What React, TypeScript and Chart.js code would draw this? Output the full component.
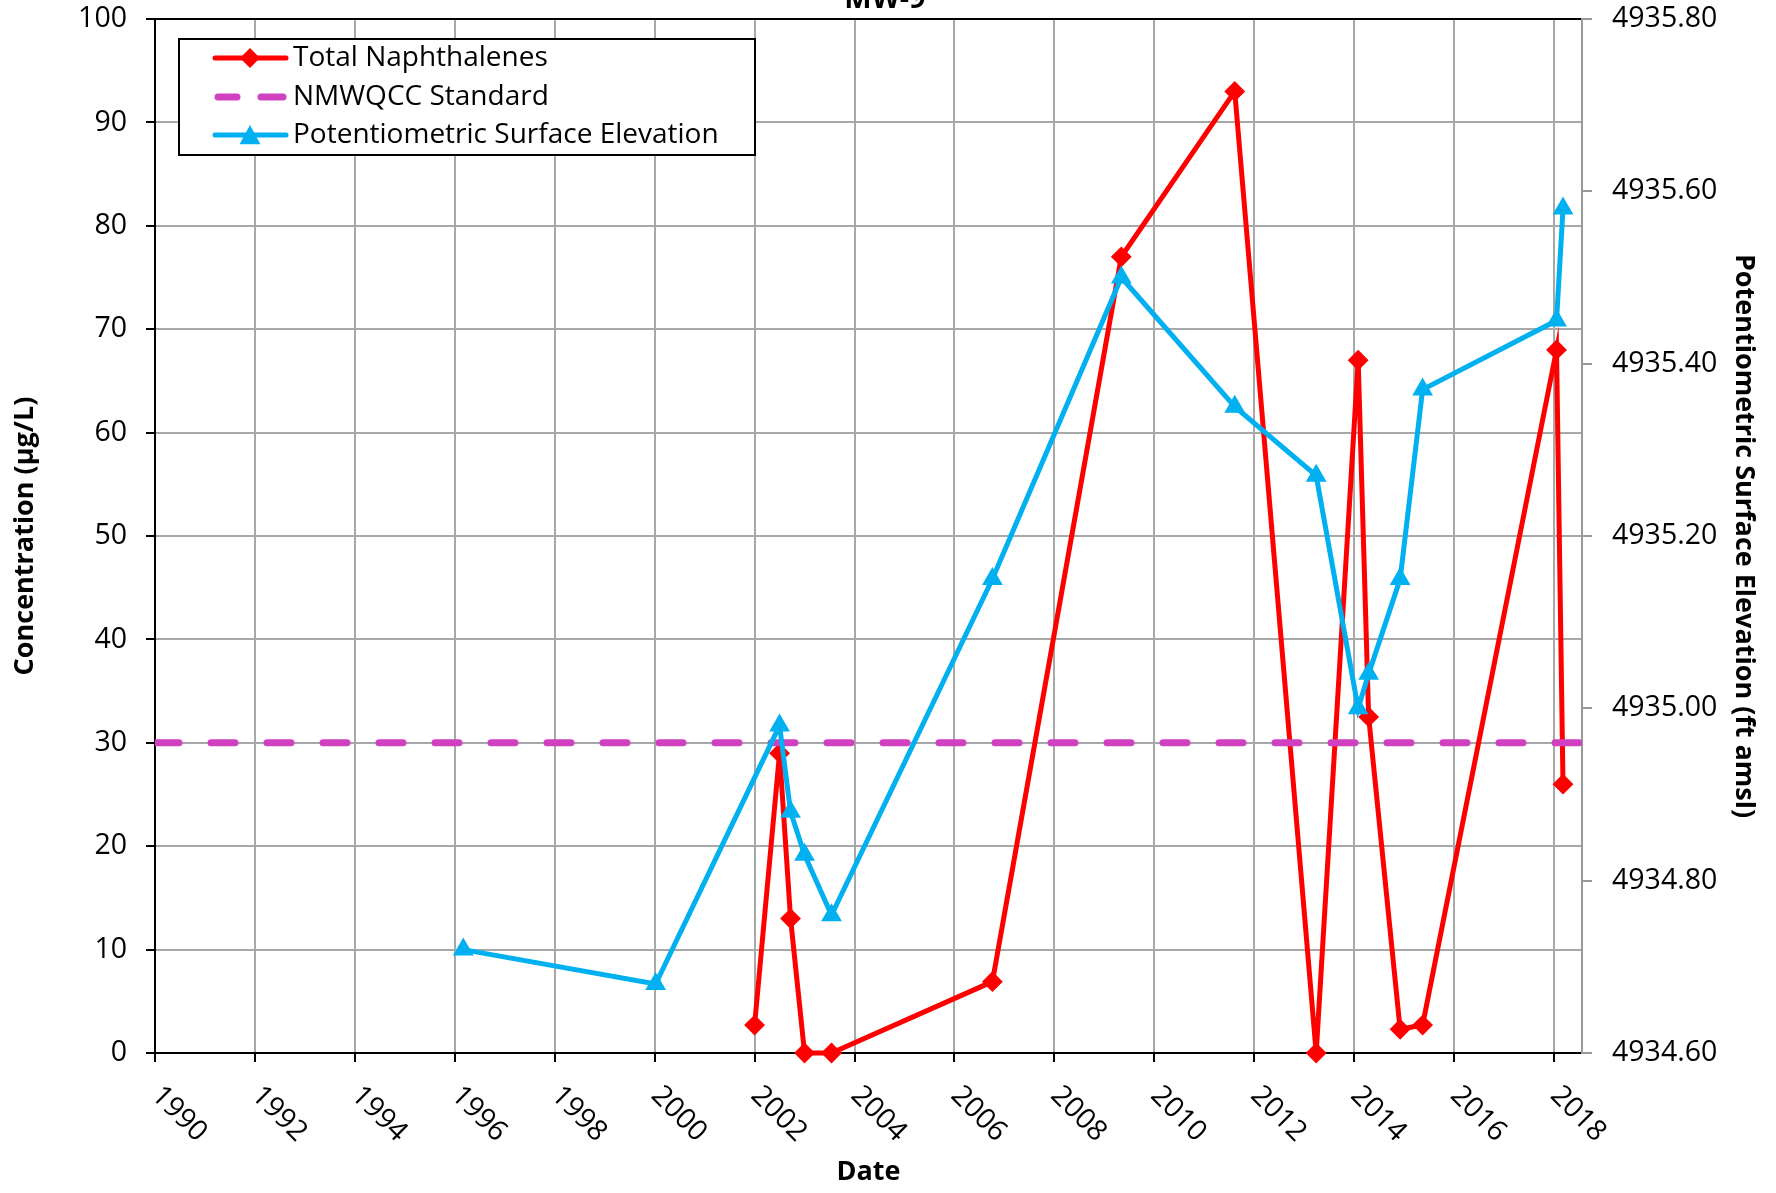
import React, { useEffect, useRef } from "react";
import { Chart, registerables } from "chart.js";

Chart.register(...registerables);

// ---- Data ----
const naphDates = [2002.0, 2002.5, 2002.72, 2003.0, 2003.54, 2006.76, 2009.34, 2011.61, 2013.24, 2014.08, 2014.29, 2014.92, 2015.37, 2018.05, 2018.18];
const naphValues = [2.7, 29, 13, 0, 0, 6.9, 77, 93, 0, 67, 32.5, 2.3, 2.7, 68, 26];

const elevDates = [1996.17, 2000.02, 2002.5, 2002.72, 2003.0, 2003.54, 2006.76, 2009.34, 2011.61, 2013.24, 2014.08, 2014.29, 2014.92, 2015.37, 2018.05, 2018.18];
const elevValues = [4934.72, 4934.68, 4934.98, 4934.88, 4934.83, 4934.76, 4935.15, 4935.5, 4935.35, 4935.27, 4935.0, 4935.04, 4935.15, 4935.37, 4935.45, 4935.58];

const standardDates = [1990, 2018.56];
const standardValues = [30, 30];

const seriesNames = ["Total Naphthalenes", "NMWQCC Standard", "Potentiometric Surface Elevation"];
const chartTitle = "MW-9";
const xTitle = "Date";
const yLeftTitle = "Concentration (µg/L)";
const yRightTitle = "Potentiometric Surface Elevation (ft amsl)";

const RED = "#FF0000";
const MAGENTA = "#D040C0";
const BLUE = "#00B0F0";
const GRID = "#A8A8A8";
const FONT = "'Open Sans', 'Noto Sans', sans-serif";
const TICK_SIZE = 28.5;
const TITLE_SIZE = 27;

const zip = (xs: number[], ys: number[]) => xs.map((x, i) => ({ x, y: ys[i] }));

function drawDiamond(ctx: CanvasRenderingContext2D, x: number, y: number, r: number) {
  ctx.beginPath();
  ctx.moveTo(x, y - r);
  ctx.lineTo(x + r, y);
  ctx.lineTo(x, y + r);
  ctx.lineTo(x - r, y);
  ctx.closePath();
  ctx.fill();
}
function drawTriangle(ctx: CanvasRenderingContext2D, x: number, y: number, r: number) {
  ctx.beginPath();
  ctx.moveTo(x, y - r);
  ctx.lineTo(x + r * 0.95, y + r * 0.75);
  ctx.lineTo(x - r * 0.95, y + r * 0.75);
  ctx.closePath();
  ctx.fill();
}

const extrasPlugin = {
  id: "extras",
  afterDraw(chart: any) {
    const ctx: CanvasRenderingContext2D = chart.ctx;
    const xs = chart.scales.x;
    const bottom = chart.chartArea.bottom;
    ctx.save();
    // x tick labels rotated clockwise
    ctx.fillStyle = "#000";
    ctx.font = `${TICK_SIZE}px ${FONT}`;
    ctx.textAlign = "left";
    ctx.textBaseline = "middle";
    xs.ticks.forEach((t: any) => {
      const px = xs.getPixelForValue(t.value);
      ctx.save();
      ctx.translate(px + 1, bottom + 38);
      ctx.rotate(Math.PI / 4);
      ctx.fillText(String(Math.round(t.value)), 0, 0);
      ctx.restore();
    });
    // title (partially cut at top)
    ctx.font = `bold 29px ${FONT}`;
    ctx.textAlign = "center";
    ctx.textBaseline = "alphabetic";
    ctx.fillText(chartTitle, 885, 8);

    // legend
    const bx = 179, by = 39, bw = 576, bh = 116;
    ctx.fillStyle = "#fff";
    ctx.fillRect(bx, by, bw, bh);
    ctx.strokeStyle = "#000";
    ctx.lineWidth = 2;
    ctx.strokeRect(bx, by, bw, bh);
    const rows = [58, 97, 135];
    const lx0 = 215, lx1 = 286, lmid = 250;
    // row 1
    ctx.lineCap = "round";
    ctx.strokeStyle = RED;
    ctx.lineWidth = 5;
    ctx.beginPath();
    ctx.moveTo(lx0, rows[0]);
    ctx.lineTo(lx1, rows[0]);
    ctx.stroke();
    ctx.fillStyle = RED;
    drawDiamond(ctx, lmid, rows[0], 10);
    // row 2
    ctx.strokeStyle = MAGENTA;
    ctx.lineWidth = 7;
    ctx.beginPath();
    ctx.moveTo(lx0 + 3, rows[1]);
    ctx.lineTo(lx0 + 22, rows[1]);
    ctx.moveTo(lx0 + 46, rows[1]);
    ctx.lineTo(lx1 - 3, rows[1]);
    ctx.stroke();
    // row 3
    ctx.strokeStyle = BLUE;
    ctx.lineWidth = 5;
    ctx.beginPath();
    ctx.moveTo(lx0, rows[2]);
    ctx.lineTo(lx1, rows[2]);
    ctx.stroke();
    ctx.fillStyle = BLUE;
    drawTriangle(ctx, lmid, rows[2] + 1, 11);
    // texts
    ctx.fillStyle = "#000";
    ctx.font = `28px ${FONT}`;
    ctx.textAlign = "left";
    ctx.textBaseline = "middle";
    seriesNames.forEach((n, i) => ctx.fillText(n, 293, rows[i]));
    ctx.restore();
  },
};

export default function App() {
  const ref = useRef<HTMLCanvasElement | null>(null);
  useEffect(() => {
    if (!ref.current) return;
    Chart.defaults.font.family = FONT;
    Chart.defaults.color = "#000";
    const chart = new Chart(ref.current, {
      type: "line",
      data: {
        datasets: [
          {
            label: seriesNames[0],
            data: zip(naphDates, naphValues),
            yAxisID: "y",
            borderColor: RED,
            backgroundColor: RED,
            borderWidth: 5,
            pointStyle: "rectRot",
            pointRadius: 9,
            pointBorderWidth: 2,
            pointBackgroundColor: RED,
            pointBorderColor: RED,
            clip: false as any,
            order: 3,
          },
          {
            label: seriesNames[1],
            data: zip(standardDates, standardValues),
            yAxisID: "y",
            borderColor: MAGENTA,
            backgroundColor: MAGENTA,
            borderWidth: 7,
            borderDash: [24, 32],
            borderCapStyle: "round",
            pointRadius: 0,
            order: 2,
          },
          {
            label: seriesNames[2],
            data: zip(elevDates, elevValues),
            yAxisID: "y2",
            borderColor: BLUE,
            backgroundColor: BLUE,
            borderWidth: 5,
            pointStyle: "triangle",
            pointRadius: 10,
            pointBorderWidth: 2,
            pointBackgroundColor: BLUE,
            pointBorderColor: BLUE,
            clip: false as any,
            order: 1,
          },
        ],
      },
      options: {
        responsive: false,
        animation: false,
        layout: { padding: { top: 19, left: 0, right: 0, bottom: 0 } },
        plugins: { legend: { display: false }, tooltip: { enabled: false }, title: { display: false } },
        elements: { line: { tension: 0 } },
        scales: {
          x: {
            type: "linear",
            position: "bottom",
            min: 1990,
            max: 2018.56,
            afterFit: (s: any) => { s.height = 140; s.paddingLeft = 0; s.paddingRight = 0; },
            ticks: { stepSize: 2, includeBounds: false, display: false },
            grid: {
              color: (c: any) => (c.tick && c.tick.value === 1990 ? "rgba(0,0,0,0)" : GRID),
              tickColor: "#000",
              lineWidth: 2,
              tickLength: 9,
            },
            border: { color: "#000", width: 2 },
            title: { display: true, text: xTitle, font: { size: TITLE_SIZE, weight: "bold" }, padding: { top: 0, bottom: 4 } },
          },
          y: {
            type: "linear",
            position: "left",
            min: 0,
            max: 100,
            afterFit: (s: any) => { s.width = 155; s.paddingTop = 0; s.paddingBottom = 0; },
            ticks: { stepSize: 10, padding: 19, font: { size: TICK_SIZE } },
            grid: {
              color: (c: any) => (c.tick && c.tick.value === 100 ? "#000" : c.tick && c.tick.value === 0 ? "rgba(0,0,0,0)" : GRID),
              tickColor: "#000",
              lineWidth: 2,
              tickLength: 9,
            },
            border: { color: "#000", width: 2 },
            title: { display: true, text: yLeftTitle, font: { size: TITLE_SIZE, weight: "bold" }, padding: { top: 9, bottom: 0 } },
          },
          y2: {
            type: "linear",
            position: "right",
            min: 4934.6,
            max: 4935.8,
            afterFit: (s: any) => { s.width = 194; s.paddingTop = 0; s.paddingBottom = 0; },
            ticks: { stepSize: 0.2, padding: 20, font: { size: TICK_SIZE }, callback: (v: any) => Number(v).toFixed(2) },
            grid: { drawOnChartArea: false, tickColor: "#999", tickLength: 10, lineWidth: 2 },
            border: { color: "#999", width: 2 },
            title: { display: true, text: yRightTitle, font: { size: TITLE_SIZE, weight: "bold" }, padding: { top: 16, bottom: 0 } },
          },
        },
      },
      plugins: [extrasPlugin],
    } as any);
    return () => chart.destroy();
  }, []);
  return (
    <div style={{ position: "absolute", left: 0, top: 0, width: 1776, height: 1193, background: "#fff" }}>
      <canvas ref={ref} width={1776} height={1193} style={{ display: "block" }} />
    </div>
  );
}
